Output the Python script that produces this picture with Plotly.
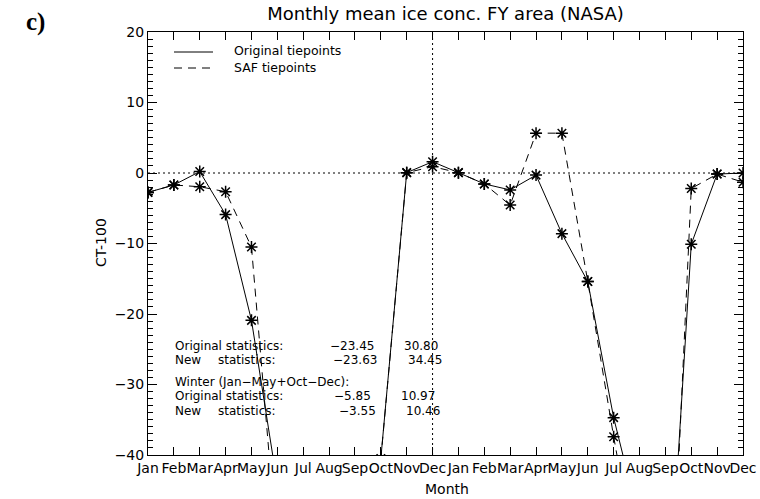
import plotly.graph_objects as go

# ---- data -------------------------------------------------------------
month_names = ["Jan", "Feb", "Mar", "Apr", "May", "Jun",
               "Jul", "Aug", "Sep", "Oct", "Nov", "Dec"]
tick_labels = month_names * 2            # two consecutive years
x_pos = list(range(len(tick_labels)))

# CT-100 monthly means, original tiepoints
original = [-2.75, -1.7, 0.2, -5.9, -20.9, -44.2, -78.0, -92.0, -86.0, -40.5, 0.05, 1.6,
            0.05, -1.55, -2.4, -0.3, -8.6, -15.4, -34.7, -49.5, -69.7, -10.1, -0.15, 0.0]
# CT-100 monthly means, SAF tiepoints
saf = [-2.75, -1.7, -1.95, -2.65, -10.5, -53.7, -82.0, -94.0, -87.0, -40.6, 0.05, 0.9,
       0.05, -1.55, -4.55, 5.65, 5.65, -15.4, -37.4, -57.8, -81.8, -2.2, -0.15, -1.3]

stats_rows = [
    ("Original statistics:", None, "\u221223.45", "30.80"),
    ("New", "statistics:", "\u221223.63", "34.45"),
    ("Winter (Jan\u2212May+Oct\u2212Dec):", None, None, None),
    ("Original statistics:", None, "\u22125.85", "10.97"),
    ("New", "statistics:", "\u22123.55", "10.46"),
]

# ---- geometry helpers (pixel -> paper) --------------------------------
W, H = 760, 499
L, R, T, B = 148, 17, 32, 44
PW, PH = W - L - R, H - T - B


def px(xp):
    return (xp - L) / PW


def py(yp):
    return (H - B - yp) / PH


FONT = "DejaVu Sans"
fig = go.Figure()

for vals, dash, name in [(original, "solid", "Original tiepoints"),
                         (saf, "8px,6px", "SAF tiepoints")]:
    fig.add_trace(go.Scatter(
        x=x_pos, y=vals, mode="lines", name=name, showlegend=False,
        line=dict(color="black", width=1, dash=dash)))
    fig.add_trace(go.Scatter(
        x=x_pos, y=vals, mode="markers", name=name, showlegend=False,
        marker=dict(symbol="asterisk-open", size=10, color="black",
                    line=dict(color="black", width=1.5))))

# dotted reference lines: zero level and first December
dec_idx = tick_labels.index("Dec")
fig.add_shape(type="line", xref="paper", yref="y", x0=0, x1=1, y0=0, y1=0,
              line=dict(color="black", width=1, dash="2px,3px"), layer="below")
fig.add_shape(type="line", xref="x", yref="paper", x0=dec_idx, x1=dec_idx, y0=0, y1=1,
              line=dict(color="black", width=1, dash="2px,3px"), layer="below")

# legend drawn inside the frame
fig.add_shape(type="line", xref="paper", yref="paper",
              x0=px(174), x1=px(213), y0=py(52), y1=py(52),
              line=dict(color="black", width=1))
fig.add_shape(type="line", xref="paper", yref="paper",
              x0=px(174), x1=px(213), y0=py(68), y1=py(68),
              line=dict(color="black", width=1, dash="8px,6px"))
ann = []
ann.append(dict(text="Original tiepoints", x=px(232), y=py(51), xanchor="left",
                yanchor="middle", font=dict(size=12.5)))
ann.append(dict(text="SAF tiepoints", x=px(232), y=py(67), xanchor="left",
                yanchor="middle", font=dict(size=12.5)))

# statistics block
row_y = [345.5, 360, 381.5, 396, 410.5]
mean_right = [375, 378, 372, 377]
std_right = [439, 443, 436, 441]
k = 0
for (lab, lab2, mean, std), yy in zip(stats_rows, row_y):
    ann.append(dict(text=lab, x=px(174), y=py(yy), xanchor="left", yanchor="middle"))
    if lab2:
        ann.append(dict(text=lab2, x=px(217), y=py(yy), xanchor="left", yanchor="middle"))
    if mean is not None:
        ann.append(dict(text=mean, x=px(mean_right[k]), y=py(yy), xanchor="right",
                        yanchor="middle"))
        ann.append(dict(text=std, x=px(std_right[k]), y=py(yy), xanchor="right",
                        yanchor="middle"))
        k += 1
for a in ann[2:]:
    a["font"] = dict(size=12)
    a["borderpad"] = 0

# axis titles and panel tag
ann.append(dict(text="CT-100", x=px(101), y=py(243), textangle=-90,
                xanchor="center", yanchor="middle"))
ann.append(dict(text="Month", x=px(447), y=py(489), xanchor="center", yanchor="middle"))
ann.append(dict(text="<b>c)</b>", x=px(35), y=py(22), xanchor="center", yanchor="middle",
                font=dict(family="Liberation Serif", size=25)))

for a in ann:
    a.setdefault("xref", "paper")
    a.setdefault("yref", "paper")
    a.setdefault("showarrow", False)
    f = a.setdefault("font", {})
    f.setdefault("family", FONT)
    f.setdefault("size", 14)
    f.setdefault("color", "black")
    fig.add_annotation(**a)

fig.update_layout(
    width=W, height=H,
    margin=dict(l=L, r=R, t=T, b=B, autoexpand=False),
    paper_bgcolor="white", plot_bgcolor="white",
    showlegend=False,
    font=dict(family=FONT, size=14, color="black"),
    title=dict(text="Monthly mean ice conc. FY area (NASA)", x=0.5, xref="paper",
               xanchor="center", y=1 - 14 / H, yanchor="middle",
               font=dict(family=FONT, size=18, color="black")),
)
fig.update_xaxes(
    range=[0, len(tick_labels) - 1], tickmode="array", tickvals=x_pos,
    ticktext=tick_labels, tickangle=0, ticks="inside", ticklen=8, tickwidth=1,
    tickcolor="black", showline=True, linecolor="black", linewidth=1,
    mirror="allticks", showgrid=False, zeroline=False, automargin=False,
    tickfont=dict(family=FONT, size=14, color="black"),
)
fig.update_yaxes(
    range=[-40, 20], dtick=10, tick0=0, ticks="inside", ticklen=9, tickwidth=1,
    tickcolor="black", showline=True, linecolor="black", linewidth=1,
    mirror="allticks", showgrid=False, zeroline=False, automargin=False,
    minor=dict(dtick=1, ticks="inside", ticklen=5, tickwidth=1, tickcolor="black",
               showgrid=False),
    tickfont=dict(family=FONT, size=14, color="black"),
)

fig.write_html("out.html")
